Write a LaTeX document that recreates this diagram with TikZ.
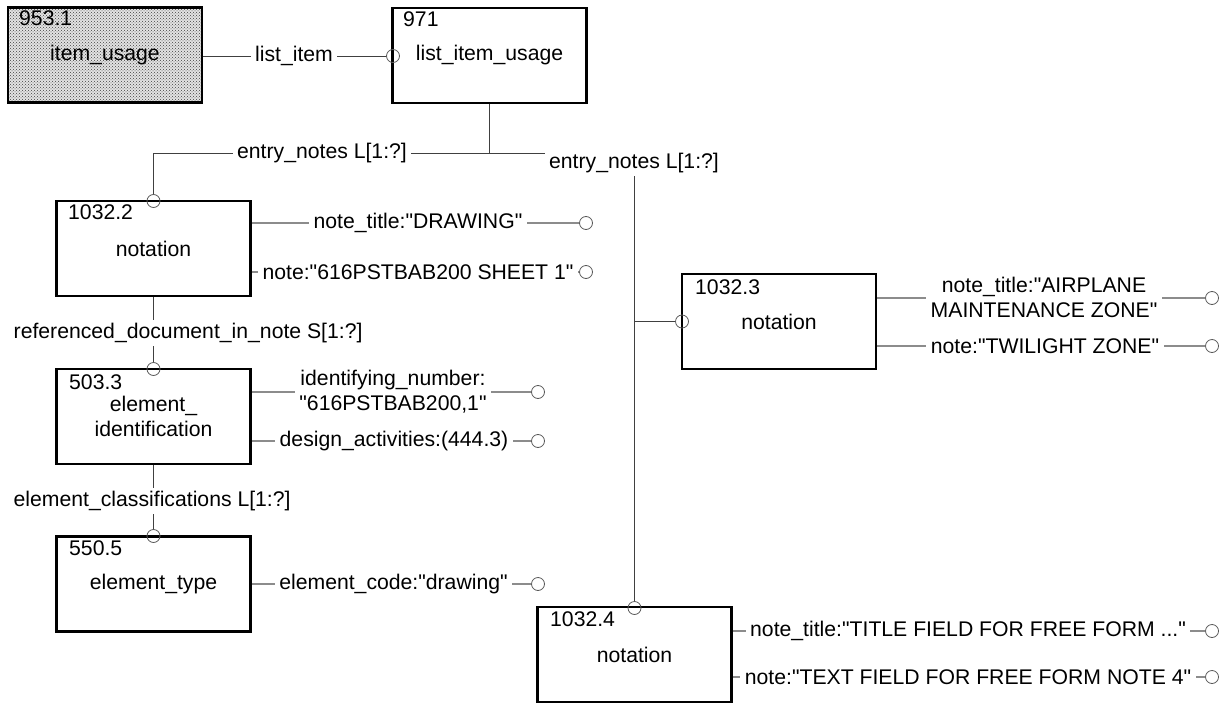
\documentclass[tikz,border=0pt]{standalone}
\usepackage{fontspec}
\setmainfont{Liberation Sans}
\usetikzlibrary{patterns}
\newcommand\qq{\textquotedbl}
\begin{document}
\begin{tikzpicture}[x=1pt,y=-1pt,
  every node/.style={font=\fontsize{21.2}{25}\selectfont, inner sep=0pt},
  box/.style={draw=black, line width=2.5pt, minimum width=194pt, minimum height=95pt, align=center},
  num/.style={anchor=west},
  rel/.style={draw=black!75, line width=1pt},
  attr/.style={draw=black!45, line width=1.2pt},
  endc/.style={circle, draw=black!65, line width=0.8pt, minimum size=13pt, inner sep=0pt},
  lab/.style={fill=white, inner xsep=4.5pt, inner ysep=3pt, align=center}]
\useasboundingbox (0,0) rectangle (1229,704);

% entity boxes
\node[box, preaction={fill=gray!22}, pattern=crosshatch dots, pattern color=black!75] (b953) at (105,55) {item\_usage};
\node[box] (b971) at (489.5,55.5) {list\_item\_usage};
\node[box] (b1032a) at (153.5,248.5) {notation};
\node[box] (b503) at (153.5,416.5) {element\_\\identification};
\node[box] (b550) at (153.5,584) {element\_type};
\node[box] (b1032b) at (779,321.5) {notation};
\node[box] (b1032c) at (634.5,654.5) {notation};

% entity numbers
\node[num] (n953) at (19,18) {953.1};
\node[num] (n971) at (403,19) {971};
\node[num] (n1032a) at (68,212) {1032.2};
\node[num] (n503) at (69,382) {503.3};
\node[num] (n550) at (69,548) {550.5};
\node[num] (n1032b) at (695,287) {1032.3};
\node[num] (n1032c) at (550,619) {1032.4};

% relationship end circles
\node[endc] (cli) at (393,56) {};
\node[endc] (ce1) at (153.5,201) {};
\node[endc] (crd) at (153.5,369) {};
\node[endc] (cec) at (153.5,536) {};
\node[endc] (ce2) at (682,321.5) {};
\node[endc] (ce3) at (634.5,608) {};

% attribute end circles
\node[endc] (a1) at (586,223) {};
\node[endc] (a2) at (586,272) {};
\node[endc] (a3) at (538,392) {};
\node[endc] (a4) at (538,441) {};
\node[endc] (a5) at (538,584) {};
\node[endc] (a6) at (1212,298) {};
\node[endc] (a7) at (1212,346) {};
\node[endc] (a8) at (1212,631) {};
\node[endc] (a9) at (1212,677) {};

\coordinate (j) at (489.5,153);

% relationship lines
\draw[rel] (b953.east |- cli) -- (cli.west);
\draw[rel] (b971.south) -- (j);
\draw[rel] (j) -| (ce1.north);
\draw[rel] (j) -| (ce3.north);
\draw[rel] (ce2.west) -- (ce2.west -| ce3.north);
\draw[rel] (b1032a.south) -- (crd.north);
\draw[rel] (b503.south) -- (cec.north);

% attribute lines
\draw[attr] (b1032a.east |- a1) -- (a1.west);
\draw[attr] (b1032a.east |- a2) -- (a2.west);
\draw[attr] (b503.east |- a3) -- (a3.west);
\draw[attr] (b503.east |- a4) -- (a4.west);
\draw[attr] (b550.east |- a5) -- (a5.west);
\draw[attr] (b1032b.east |- a6) -- (a6.west);
\draw[attr] (b1032b.east |- a7) -- (a7.west);
\draw[attr] (b1032c.east |- a8) -- (a8.west);
\draw[attr] (b1032c.east |- a9) -- (a9.west);

% relationship labels
\node[lab] (lli) at (294,56) {list\_item};
\node[lab] (len1) at (322,153) {entry\_notes L[1:?]};
\node[lab] (len2) at (634,163) {entry\_notes L[1:?]};
\node[lab, anchor=west] (lrd) at (9,333) {referenced\_document\_in\_note S[1:?]};
\node[lab, anchor=west] (lec) at (9,501) {element\_classifications L[1:?]};

% attribute labels
\node[lab] (t1) at (418,223) {note\_title:\qq DRAWING\qq};
\node[lab] (t2) at (418,272) {note:\qq 616PSTBAB200 SHEET 1\qq};
\node[lab] (t3) at (393,392) {identifying\_number:\\\qq 616PSTBAB200,1\qq};
\node[lab] (t4) at (394,441) {design\_activities:(444.3)};
\node[lab] (t5) at (393.5,584) {element\_code:\qq drawing\qq};
\node[lab] (t6) at (1044,297) {note\_title:\qq AIRPLANE\\MAINTENANCE ZONE\qq};
\node[lab] (t7) at (1045,346) {note:\qq TWILIGHT ZONE\qq};
\node[lab] (t8) at (968,631) {note\_title:\qq TITLE FIELD FOR FREE FORM ...\qq};
\node[lab] (t9) at (968,677) {note:\qq TEXT FIELD FOR FREE FORM NOTE 4\qq};
\end{tikzpicture}
\end{document}
